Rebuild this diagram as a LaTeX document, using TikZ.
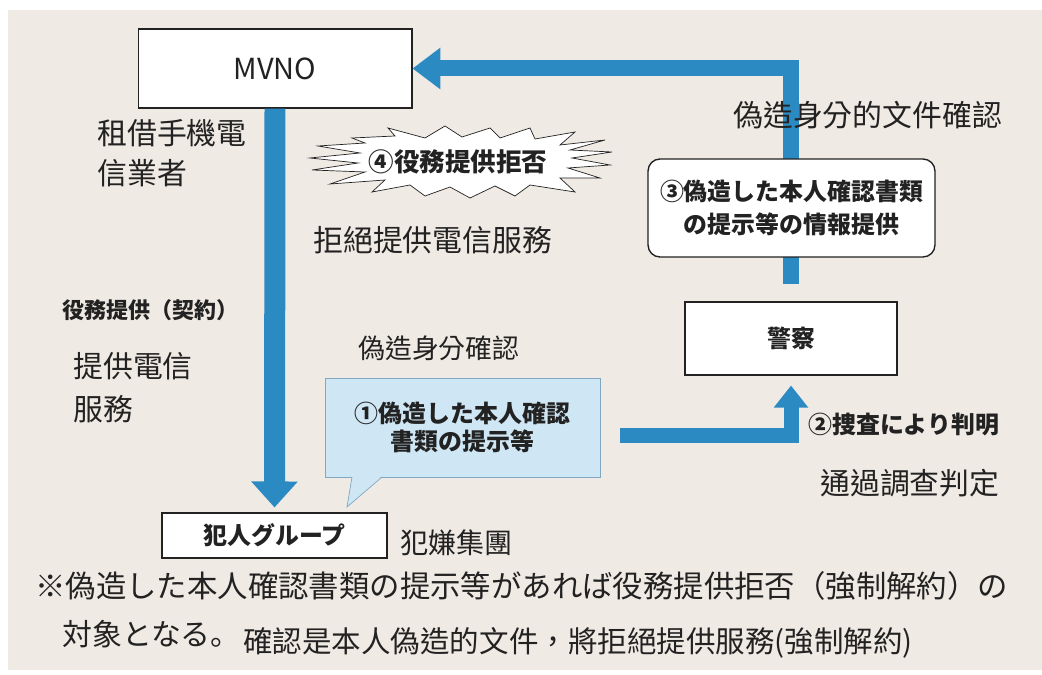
\documentclass[tikz,border=0pt]{standalone}
\usepackage{fontspec}
\newfontfamily\jp{Noto Sans CJK JP}
\newfontfamily\tc{Noto Sans CJK TC}
\usetikzlibrary{arrows.meta}
\definecolor{flow}{HTML}{2C8AC2}
\definecolor{paper}{HTML}{F0EAE4}
\definecolor{callout}{HTML}{CFE6F4}
\definecolor{calledge}{HTML}{7FA8C4}
\definecolor{ink}{HTML}{222222}

\begin{document}
\begin{tikzpicture}[x=0.02cm,y=-0.02cm,
    box/.style={draw=ink,fill=white,semithick,inner sep=0pt},
    jplabel/.style={font=\jp\bfseries\fontsize{13.6}{18.7}\selectfont,text=ink,align=center},
    zhnote/.style={font=\tc\fontsize{17}{22.7}\selectfont,anchor=west,inner sep=0pt,align=left,text=ink},
    flowline/.style={draw=flow,line join=miter}]
  \useasboundingbox (0,0) rectangle (1042,675);
  \fill[paper] (8,10) rectangle (1042,670);

  \path
  % parties
  (275,68.5) node[box,minimum width=5.48cm,minimum height=1.58cm,
    font=\jp\fontsize{16.5}{18}\selectfont,text=ink](mvno) {MVNO}
  (791,338.5) node[box,jplabel,minimum width=4.24cm,minimum height=1.46cm](police) {警察}
  (274.5,535.5) node[box,jplabel,minimum width=4.5cm,minimum height=0.9cm](gang) {犯人グループ}
  ;
  \coordinate (s2) at (620,435.5);
  \coordinate (tip1) at (347,507);

  % flows
  \draw[flowline,line width=0.32cm,-{Triangle[width=0.8cm,length=0.56cm]},
    shorten <=0.34cm] (police.north) |- (mvno.east);
  \draw[flowline,line width=0.42cm,-{Triangle[width=0.9cm,length=0.52cm]},
    shorten >=0.1cm] (mvno.south) -- (gang.north);
  \draw[flowline,line width=0.3cm,-{Triangle[width=0.66cm,length=0.44cm]},
    shorten >=0.2cm] (s2) -| (police.south);

  % steps
  \node[draw=ink,fill=white,thick,rounded corners=0.24cm,minimum width=5.74cm,
    minimum height=1.96cm,jplabel] (info) at (791.5,208)
    {③偽造した本人確認書類\\の提示等の情報提供};
  \node[draw=calledge,fill=callout,minimum width=5.5cm,minimum height=1.98cm,
    jplabel,font=\jp\bfseries\fontsize{13.6}{16.4}\selectfont] (show) at (462.5,427.5)
    {①偽造した本人確認\\書類の提示等};
  \fill[callout] (352,476) -- (tip1) -- (382,476) -- cycle;
  \draw[calledge] (352,477) -- (tip1) -- (382,477);

  \draw[ink,fill=white,line join=miter] (365,143) -- (352,138) -- (395,136) -- (388,128)
    -- (425,138) -- (445,126) -- (462,137) -- (490,128) -- (500,138) -- (530,128)
    -- (535,139) -- (575,132) -- (560,145) -- (605,140) -- (570,150) -- (612,152)
    -- (572,158) -- (610,165) -- (568,168) -- (600,178) -- (560,178) -- (575,192)
    -- (530,185) -- (515,196) -- (495,186) -- (470,198) -- (450,187) -- (425,196)
    -- (410,185) -- (372,192) -- (385,180) -- (330,184) -- (365,172) -- (312,170)
    -- (358,163) -- (310,158) -- (360,153) -- (318,146) -- cycle;
  \node[jplabel,font=\jp\bfseries\fontsize{14.5}{18}\selectfont] (refuse) at (458,162) {④役務提供拒否};

  % japanese notes
  \node[jplabel,anchor=west,inner sep=0pt,font=\jp\bfseries\fontsize{12.5}{15}\selectfont]
    (contract) at (62,310) {役務提供（契約）};
  \node[jplabel,anchor=west,inner sep=0pt] (found) at (808,425) {②捜査により判明};
  \node[anchor=west,inner sep=0pt,text=ink,font=\jp\fontsize{17.3}{22}\selectfont]
    (note1) at (35,586) {※偽造した本人確認書類の提示等があれば役務提供拒否（強制解約）の};
  \node[anchor=west,inner sep=0pt,text=ink,font=\jp\fontsize{17}{22}\selectfont]
    (note2) at (62,634) {対象となる。};

  % chinese notes
  \node[zhnote] (zhmvno) at (97,153) {租借手機電\\信業者};
  \node[zhnote] (zhrefuse) at (313,240) {拒絕提供電信服務};
  \node[zhnote,font=\tc\fontsize{15.3}{20}\selectfont] (zhshow) at (358,348) {偽造身分確認};
  \node[zhnote,font=\tc\fontsize{17}{24.4}\selectfont] (zhcontract) at (73,388) {提供電信\\服務};
  \node[zhnote] (zhinfo) at (733,115) {偽造身分的文件確認};
  \node[zhnote] (zhfound) at (820,483) {通過調查判定};
  \node[zhnote,font=\tc\fontsize{16}{20}\selectfont] (zhgang) at (400,543) {犯嫌集團};
  \node[zhnote,font=\tc\fontsize{16.8}{20}\selectfont] (zhnote) at (243,643)
    {確認是本人偽造的文件，將拒絕提供服務(強制解約)};
\end{tikzpicture}
\end{document}
